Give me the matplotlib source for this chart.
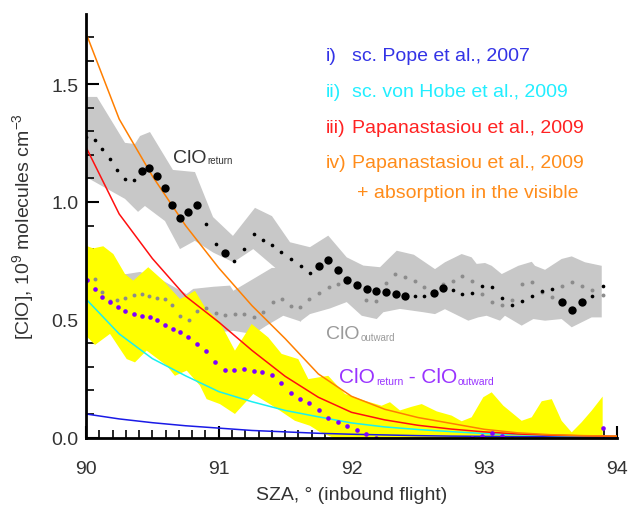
import numpy as np
import matplotlib
matplotlib.use("Agg")
import matplotlib.pyplot as plt
from matplotlib.ticker import MultipleLocator, FixedLocator

plt.rcParams['font.family'] = ['Liberation Sans', 'DejaVu Sans']
plt.rcParams['mathtext.fontset'] = 'custom'
plt.rcParams['mathtext.rm'] = 'Liberation Sans'
plt.rcParams['mathtext.it'] = 'Liberation Sans:italic'

# ---------------- data ----------------
# ClO return (black dots), size class 1 = large marker
ret_x = [90.000, 90.065, 90.123, 90.181, 90.236, 90.296, 90.364, 90.422, 90.477, 90.537,
         90.593, 90.650, 90.708, 90.768, 90.834, 90.904, 90.977, 91.049, 91.117, 91.188,
         91.263, 91.333, 91.401, 91.469, 91.547, 91.620, 91.687, 91.753, 91.825, 91.896,
         91.968, 92.039, 92.114, 92.185, 92.260, 92.335, 92.405, 92.478, 92.548, 92.621,
         92.692, 92.765, 92.835, 92.908, 92.983, 93.056, 93.131, 93.209, 93.287, 93.362,
         93.437, 93.513, 93.588, 93.661, 93.739, 93.814, 93.892]
ret_y = [1.277, 1.263, 1.226, 1.181, 1.135, 1.096, 1.092, 1.133, 1.144, 1.109,
         1.061, 0.989, 0.931, 0.959, 0.989, 0.907, 0.822, 0.783, 0.749, 0.802,
         0.863, 0.840, 0.817, 0.788, 0.760, 0.728, 0.699, 0.728, 0.755, 0.713,
         0.670, 0.649, 0.631, 0.624, 0.617, 0.609, 0.602, 0.602, 0.602, 0.614,
         0.635, 0.628, 0.609, 0.614, 0.645, 0.640, 0.592, 0.563, 0.578, 0.602,
         0.621, 0.631, 0.577, 0.543, 0.577, 0.602, 0.645]
ret_big = [0, 0, 0, 0, 0, 0, 0, 1, 1, 1,
           1, 1, 1, 1, 1, 0, 0, 1, 0, 0,
           0, 0, 0, 0, 0, 0, 0, 1, 1, 1,
           1, 1, 1, 1, 1, 1, 1, 0, 0, 1,
           1, 0, 0, 0, 0, 0, 0, 0, 0, 0,
           0, 0, 1, 1, 1, 0, 0]

# ClO outward (grey dots)
out_x = [90.065, 90.123, 90.181, 90.236, 90.296, 90.364, 90.422, 90.477, 90.537, 90.593,
         90.650, 90.708, 90.774, 90.838, 90.904, 90.977, 91.047, 91.122, 91.192, 91.266,
         91.336, 91.406, 91.474, 91.542, 91.612, 91.682, 91.755, 91.828, 91.900,
         92.109, 92.185, 92.260, 92.330, 92.403, 92.478, 92.548, 92.687, 92.765, 92.835,
         92.908, 92.983, 93.056, 93.131, 93.209, 93.287, 93.362, 93.437, 93.513, 93.588,
         93.661, 93.739, 93.814, 93.892]
out_y = [0.673, 0.617, 0.580, 0.585, 0.594, 0.605, 0.611, 0.600, 0.594, 0.587,
         0.563, 0.515, 0.500, 0.538, 0.550, 0.527, 0.519, 0.523, 0.523, 0.513,
         0.532, 0.574, 0.587, 0.560, 0.555, 0.587, 0.614, 0.638, 0.652,
         0.584, 0.581, 0.656, 0.694, 0.680, 0.663, 0.638, 0.652, 0.666, 0.685,
         0.663, 0.609, 0.574, 0.564, 0.585, 0.652, 0.659, 0.617, 0.595, 0.645,
         0.662, 0.645, 0.628, 0.605]

# ClO return - ClO outward (purple dots)
dif_x = [90.005, 90.065, 90.123, 90.181, 90.239, 90.296, 90.364, 90.422, 90.480, 90.537,
         90.595, 90.653, 90.710, 90.768, 90.834, 90.904, 90.974, 91.047, 91.117, 91.190,
         91.263, 91.328, 91.399, 91.469, 91.542, 91.612, 91.682, 91.755, 91.825, 91.896,
         91.968, 92.039, 92.109, 92.182, 92.905, 92.981, 93.056, 93.131, 93.209, 93.892]
dif_y = [0.669, 0.629, 0.597, 0.574, 0.553, 0.536, 0.524, 0.517, 0.513, 0.500,
         0.479, 0.461, 0.447, 0.425, 0.397, 0.369, 0.322, 0.288, 0.288, 0.290,
         0.284, 0.279, 0.265, 0.230, 0.189, 0.163, 0.146, 0.117, 0.084, 0.065,
         0.048, 0.033, 0.015, -0.002, -0.004, 0.008, 0.019, 0.008, -0.006, 0.040]

# grey band of ClO return (lower edge joins the outward band where they merge)
ret_up_x = [90.000, 90.083, 90.294, 90.369, 90.407, 90.482, 90.655, 90.821, 90.957, 91.107,
            91.273, 91.401, 91.537, 91.687, 91.825, 91.964, 92.089, 92.215, 92.265, 92.341,
            92.470, 92.629, 92.704, 92.830, 92.905, 92.943, 93.006, 93.056, 93.132, 93.257,
            93.358, 93.382, 93.458, 93.583, 93.659, 93.759, 93.885]
ret_up_y = [1.446, 1.446, 1.251, 1.246, 1.280, 1.297, 1.136, 1.127, 0.936, 0.856,
            0.975, 0.940, 0.829, 0.808, 0.857, 0.765, 0.730, 0.723, 0.751, 0.793,
            0.776, 0.715, 0.744, 0.779, 0.765, 0.737, 0.741, 0.729, 0.694, 0.729,
            0.746, 0.729, 0.712, 0.758, 0.769, 0.744, 0.729]
ret_lo_x = [90.000, 90.294, 90.392, 90.444, 90.595, 90.708, 90.820, 90.959, 91.110, 91.260,
            91.437, 91.562, 91.612, 91.687, 91.838, 91.964, 92.077, 92.190, 92.240, 92.365,
            92.541, 92.629, 92.704, 92.880, 92.955, 93.018, 93.119, 93.156, 93.282, 93.370,
            93.458, 93.583, 93.659, 93.809, 93.885]
ret_lo_y = [1.106, 1.013, 0.958, 0.983, 0.919, 0.800, 0.835, 0.785, 0.744, 0.800,
            0.715, 0.687, 0.492, 0.524, 0.548, 0.575, 0.517, 0.503, 0.532, 0.546,
            0.532, 0.524, 0.545, 0.496, 0.510, 0.517, 0.496, 0.517, 0.475, 0.503,
            0.496, 0.503, 0.468, 0.510, 0.510]

# grey band of ClO outward (left part, before merging)
out_up_x = [90.000, 90.083, 90.306, 90.407, 90.557, 90.758, 90.808, 90.959, 91.085, 91.110,
            91.260, 91.400, 91.620]
out_up_y = [0.680, 0.690, 0.694, 0.703, 0.673, 0.609, 0.631, 0.640, 0.645, 0.623,
            0.673, 0.720, 0.720]
out_lo_x = [90.000, 90.600, 90.859, 91.110, 91.260, 91.360, 91.486, 91.620]
out_lo_y = [0.500, 0.480, 0.439, 0.453, 0.439, 0.475, 0.517, 0.492]

# yellow band of the difference
yel_up_x = [90.000, 90.055, 90.130, 90.206, 90.294, 90.356, 90.469, 90.582, 90.708, 90.759,
            90.821, 90.896, 91.009, 91.122, 91.248, 91.373, 91.474, 91.599, 91.675, 91.825,
            91.951, 92.102, 92.227, 92.290, 92.365, 92.450, 92.529, 92.642, 92.755, 92.830,
            92.905, 92.993, 93.056, 93.144, 93.282, 93.358, 93.433, 93.509, 93.583, 93.659,
            93.734, 93.809, 93.892]
yel_up_y = [0.814, 0.803, 0.812, 0.779, 0.694, 0.666, 0.723, 0.666, 0.588, 0.602,
            0.623, 0.553, 0.489, 0.369, 0.482, 0.425, 0.355, 0.333, 0.248, 0.262,
            0.185, 0.156, 0.135, 0.150, 0.115, 0.130, 0.142, 0.111, 0.093, 0.069,
            0.086, 0.171, 0.192, 0.135, 0.071, 0.086, 0.154, 0.163, 0.071, 0.022,
            0.065, 0.114, 0.174]
yel_lo_x = [90.000, 90.068, 90.181, 90.307, 90.369, 90.457, 90.608, 90.670, 90.759, 90.859,
            90.909, 91.009, 91.122, 91.260, 91.424, 91.574, 91.687, 91.763, 91.900, 93.892]
yel_lo_y = [0.432, 0.393, 0.440, 0.333, 0.319, 0.369, 0.305, 0.262, 0.284, 0.220,
            0.163, 0.142, 0.100, 0.185, 0.128, 0.071, 0.050, 0.023, -0.010, -0.010]

# model curves
mod_x = [90.00, 90.25, 90.50, 90.75, 91.00, 91.25, 91.50, 91.75, 92.00, 92.25,
         92.50, 92.75, 93.00, 93.25, 93.50, 93.75, 94.00]
mod_pope = [0.100, 0.079, 0.063, 0.050, 0.040, 0.030, 0.024, 0.018, 0.014, 0.011,
            0.008, 0.006, 0.005, 0.004, 0.003, 0.002, 0.002]
mod_hobe = [0.588, 0.440, 0.335, 0.262, 0.195, 0.152, 0.115, 0.088, 0.062, 0.045,
            0.034, 0.025, 0.017, 0.012, 0.009, 0.006, 0.005]
mod_papa = [1.233, 0.949, 0.760, 0.600, 0.490, 0.370, 0.260, 0.171, 0.107, 0.075,
            0.052, 0.036, 0.024, 0.015, 0.010, 0.007, 0.005]
mod_papa_vis = [1.717, 1.352, 1.110, 0.900, 0.720, 0.560, 0.420, 0.270, 0.175, 0.120,
                0.085, 0.060, 0.035, 0.020, 0.012, 0.008, 0.006]

legend_labels = ["sc. Pope et al., 2007", "sc. von Hobe et al., 2009",
                 "Papanastasiou et al., 2009", "Papanastasiou et al., 2009"]
legend_numerals = ["i)", "ii)", "iii)", "iv)"]
x_ticks = [90, 91, 92, 93, 94]
y_ticks = [0.0, 0.5, 1.0, 1.5]
y_ticklabels = ["0.0", "0.5", "1.0", "1.5"]

# ---------------- figure ----------------
W, H = 629, 506
fig = plt.figure(figsize=(W / 100, H / 100), dpi=100)
ax = fig.add_axes([86 / W, 1 - 439 / H, (617 - 86) / W, (439 - 15) / H])

grey = '#c8c8c8'
ax.fill(np.concatenate([ret_up_x, ret_lo_x[::-1]]), np.concatenate([ret_up_y, ret_lo_y[::-1]]),
        color=grey, lw=0, zorder=1)
ax.fill(np.concatenate([out_up_x, out_lo_x[::-1]]), np.concatenate([out_up_y, out_lo_y[::-1]]),
        color=grey, lw=0, zorder=1)
ax.fill(np.concatenate([yel_up_x, yel_lo_x[::-1]]), np.concatenate([yel_up_y, yel_lo_y[::-1]]),
        color='#ffff00', lw=0, zorder=2)

line_cols = ['#1a1ae6', '#19f0f0', '#ff0f0f', '#ff7f00']
for ys, c in zip([mod_pope, mod_hobe, mod_papa, mod_papa_vis], line_cols):
    ax.plot(mod_x, ys, color=c, lw=1.1, zorder=3)

ax.scatter(out_x, out_y, s=8, color='#8c8c8c', lw=0, zorder=4)
ret_x_a = np.array(ret_x); ret_y_a = np.array(ret_y); big = np.array(ret_big) == 1
ax.scatter(ret_x_a[~big], ret_y_a[~big], s=7, color='black', lw=0, zorder=5)
ax.scatter(ret_x_a[big], ret_y_a[big], s=36, color='black', lw=0, zorder=5)
ax.scatter(dif_x, dif_y, s=11, color='#7f00ff', lw=0, zorder=5)

ax.set_xlim(90, 94)
ax.set_ylim(-0.002, 1.798)
for s in ['top', 'right']:
    ax.spines[s].set_visible(False)
for s in ['left', 'bottom']:
    ax.spines[s].set_linewidth(2.0)
    ax.spines[s].set_zorder(6)

ax.xaxis.set_major_locator(FixedLocator(x_ticks))
ax.xaxis.set_minor_locator(MultipleLocator(0.1))
ax.yaxis.set_major_locator(FixedLocator(y_ticks))
ax.yaxis.set_minor_locator(MultipleLocator(0.1))
ax.set_yticklabels(y_ticklabels)
ax.set_xticklabels([str(t) for t in x_ticks])
ax.tick_params(which='both', direction='in', colors='black', labelcolor='#333333')
ax.tick_params(which='major', length=9, width=1.5, labelsize=14)
ax.tick_params(which='minor', length=5.5, width=1.2)
ax.tick_params(axis='x', which='major', pad=15.5)
ax.tick_params(axis='y', which='major', pad=5.5)

ax.set_xlabel("SZA, \u00b0 (inbound flight)", fontsize=14, color='#333333', labelpad=7)
ax.set_ylabel("[ClO], 10$^{9}$ molecules cm$^{-3}$", fontsize=14, color='#333333', labelpad=11)


def sub_label(x, y, parts, color, size, subsize):
    prev = None
    first = None
    for i, p in enumerate(parts):
        is_sub = (i % 2 == 1)
        fs = subsize if is_sub else size
        if prev is None:
            t = ax.text(x, y, p, fontsize=fs, color=color, ha='left', va='baseline', zorder=7)
            first = t
        else:
            if is_sub:
                t = ax.annotate(p, xy=(1, 0), xycoords=(prev, first), xytext=(0.5, 2.0),
                                textcoords='offset points', fontsize=fs, color=color,
                                ha='left', va='baseline', zorder=7)
            else:
                t = ax.annotate(p, xy=(1, 0), xycoords=(prev, first), xytext=(0, 0),
                                textcoords='offset points', fontsize=fs, color=color,
                                ha='left', va='bottom', zorder=7)
        prev = t


sub_label(90.655, 1.170, ["ClO", "return"], '#333333', 14, 7)
sub_label(91.808, 0.421, ["ClO", "outward"], '#9a9a9a', 14, 7)
sub_label(91.908, 0.234, ["ClO", "return", " - ClO", "outward"], '#9933ff', 15, 7.5)

leg_text_cols = ['#3333e6', '#22eeff', '#ff2222', '#ff8c1a']
leg_y = [0.892, 0.807, 0.721, 0.640]
for num, lab, c, yy in zip(legend_numerals, legend_labels, leg_text_cols, leg_y):
    ax.text(0.452, yy, num, transform=ax.transAxes, fontsize=14, color=c, ha='left', va='baseline')
    ax.text(0.501, yy, lab, transform=ax.transAxes, fontsize=14, color=c, ha='left', va='baseline')
ax.text(0.510, 0.568, "+ absorption in the visible", transform=ax.transAxes, fontsize=14,
        color=leg_text_cols[3], ha='left', va='baseline')

fig.savefig("out.png", dpi=100)
